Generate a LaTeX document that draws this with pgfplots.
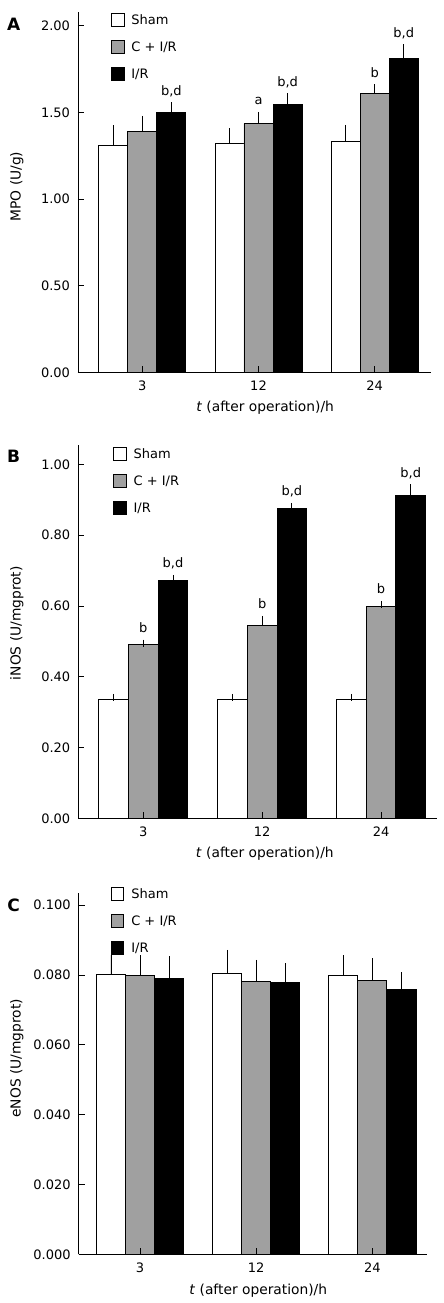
\documentclass[border=0pt]{standalone}
\usepackage{fontspec}
\setmainfont{DejaVu Sans}
\usepackage{pgfplots}
\pgfplotsset{compat=1.18}
\definecolor{bargray}{RGB}{160,160,160}
\tikzset{lab/.style={anchor=base, yshift=10.5pt, font=\fontsize{13}{15.6}\selectfont}}
\pgfplotsset{
  panel/.style={
    scale only axis,
    axis x line=bottom, axis y line=left,
    axis line style={line width=0.8pt, -},
    tick align=inside,
    major tick style={line width=0.8pt, black},
    major tick length=6pt,
    ymin=0,
    xtick={0,1,2}, xticklabels={3,12,24},
    axis on top,
    clip=false,
    font=\fontsize{13}{15.6}\selectfont,
    label style={font=\fontsize{13.8}{16}\selectfont},
    /pgf/number format/assume math mode=true,
    yticklabel style={/pgf/number format/fixed, /pgf/number format/fixed zerofill, /pgf/number format/precision=2, xshift=-4.5pt},
    xticklabel style={yshift=-5pt},
    error bars/y dir=plus, error bars/y explicit,
    error bars/error bar style={line width=0.8pt, black, solid},
    error bars/error mark options={line width=0.8pt, black, mark size=3.5pt},
    legend style={draw=none, fill=none, inner sep=0pt, outer sep=0pt, row sep=13.6pt, column sep=7pt, anchor=north west,
      nodes={inner sep=0pt, text height=10.7pt, text depth=1.3pt}},
    legend cell align=left,
    xlabel={\textit{t} (after operation)/h},
  },
  sq/.style={ybar, bar width=0.25, bar shift=0pt, draw=black, line width=0.8pt, fill=#1,
    legend image code/.code={\draw[line width=0.8pt, draw=black, fill=#1] (0pt,-6.25pt) rectangle (12.5pt,6.25pt);}},
}
\begin{document}
\begin{tikzpicture}
\useasboundingbox (0,0) rectangle (444pt,1303pt);
% ---------------- Panel A
\begin{axis}[panel, at={(78pt,930.7pt)}, anchor=south west, width=353pt, height=360.6pt,
  xmin=-0.553, xmax=2.484, ymax=2.081, ytick={0,0.5,1,1.5,2},
  ylabel={MPO (U/g)}, ylabel style={at={(axis description cs:-0.1623,0.515)}, anchor=base},
  xlabel style={at={(axis description cs:0.53,0)}, anchor=base, yshift=-39.5pt},
  legend style={at={(axis description cs:0.0935,0.9957)}}]
\addplot[sq=white] coordinates {(-0.25,1.308) +- (0,0.096) (0.75,1.319) +- (0,0.069) (1.75,1.331) +- (0,0.077)};
\addlegendentry{Sham}
\addplot[sq=bargray] coordinates {(0,1.390) +- (0,0.069) (1,1.435) +- (0,0.048) (2,1.608) +- (0,0.035)};
\addlegendentry{C + I/R}
\addplot[sq=black] coordinates {(0.25,1.500) +- (0,0.038) (1.25,1.546) +- (0,0.044) (2.25,1.812) +- (0,0.062)};
\addlegendentry{I/R}
\node[lab] at (axis cs:0.25,1.5385) {b,d};
\node[lab] at (axis cs:1,1.4827) {a};
\node[lab] at (axis cs:1.25,1.5904) {b,d};
\node[lab] at (axis cs:2,1.6423) {b};
\node[lab] at (axis cs:2.25,1.8731) {b,d};
\end{axis}
% ---------------- Panel B
\begin{axis}[panel, at={(78.3pt,484.5pt)}, anchor=south west, width=358.7pt, height=373.5pt,
  xmin=-0.547, xmax=2.471, ymax=1.0545, ytick={0,0.2,0.4,0.6,0.8,1},
  ylabel={iNOS (U/mgprot)}, ylabel style={at={(axis description cs:-0.1606,0.523)}, anchor=base},
  xlabel style={at={(axis description cs:0.52,0)}, anchor=base, yshift=-39.5pt},
  legend style={at={(axis description cs:0.0976,0.994)}}]
\addplot[sq=white] coordinates {(-0.25,0.3365) +- (0,0.0055) (0.75,0.3365) +- (0,0.0055) (1.75,0.3365) +- (0,0.0055)};
\addlegendentry{Sham}
\addplot[sq=bargray] coordinates {(0,0.4918) +- (0,0.003) (1,0.5445) +- (0,0.018) (2,0.598) +- (0,0.0066)};
\addlegendentry{C + I/R}
\addplot[sq=black] coordinates {(0.25,0.6725) +- (0,0.0056) (1.25,0.8758) +- (0,0.0056) (2.25,0.9125) +- (0,0.0216)};
\addlegendentry{I/R}
\node[lab] at (axis cs:0,0.4946) {b};
\node[lab] at (axis cs:0.25,0.6781) {b,d};
\node[lab] at (axis cs:1,0.5624) {b};
\node[lab] at (axis cs:1.25,0.8814) {b,d};
\node[lab] at (axis cs:2,0.6047) {b};
\node[lab] at (axis cs:2.25,0.9341) {b,d};
\end{axis}
% ---------------- Panel C
\begin{axis}[panel, at={(78.7pt,48.7pt)}, anchor=south west, width=348pt, height=361pt,
  xmin=-0.528, xmax=2.468, ymax=0.1034, ytick={0,0.02,0.04,0.06,0.08,0.1},
  yticklabel style={/pgf/number format/precision=3},
  ylabel={eNOS (U/mgprot)}, ylabel style={at={(axis description cs:-0.1667,0.543)}, anchor=base},
  xlabel style={at={(axis description cs:0.516,0)}, anchor=base, yshift=-40.5pt},
  legend style={at={(axis description cs:0.0928,1.0168)}}]
\addplot[sq=white] coordinates {(-0.25,0.0802) +- (0,0.0055) (0.75,0.0804) +- (0,0.0058) (1.75,0.0799) +- (0,0.0048)};
\addlegendentry{Sham}
\addplot[sq=bargray] coordinates {(0,0.0799) +- (0,0.0048) (1,0.0782) +- (0,0.0051) (2,0.0785) +- (0,0.0053)};
\addlegendentry{C + I/R}
\addplot[sq=black] coordinates {(0.25,0.0789) +- (0,0.0054) (1.25,0.0779) +- (0,0.0045) (2.25,0.0759) +- (0,0.0039)};
\addlegendentry{I/R}
\end{axis}
% panel letters
\node[font=\fontsize{17}{20}\selectfont\bfseries] at (13.7pt,1278.8pt) {A};
\node[font=\fontsize{17}{20}\selectfont\bfseries] at (13.7pt,846.3pt) {B};
\node[font=\fontsize{17}{20}\selectfont\bfseries] at (13.7pt,398pt) {C};
\end{tikzpicture}
\end{document}
